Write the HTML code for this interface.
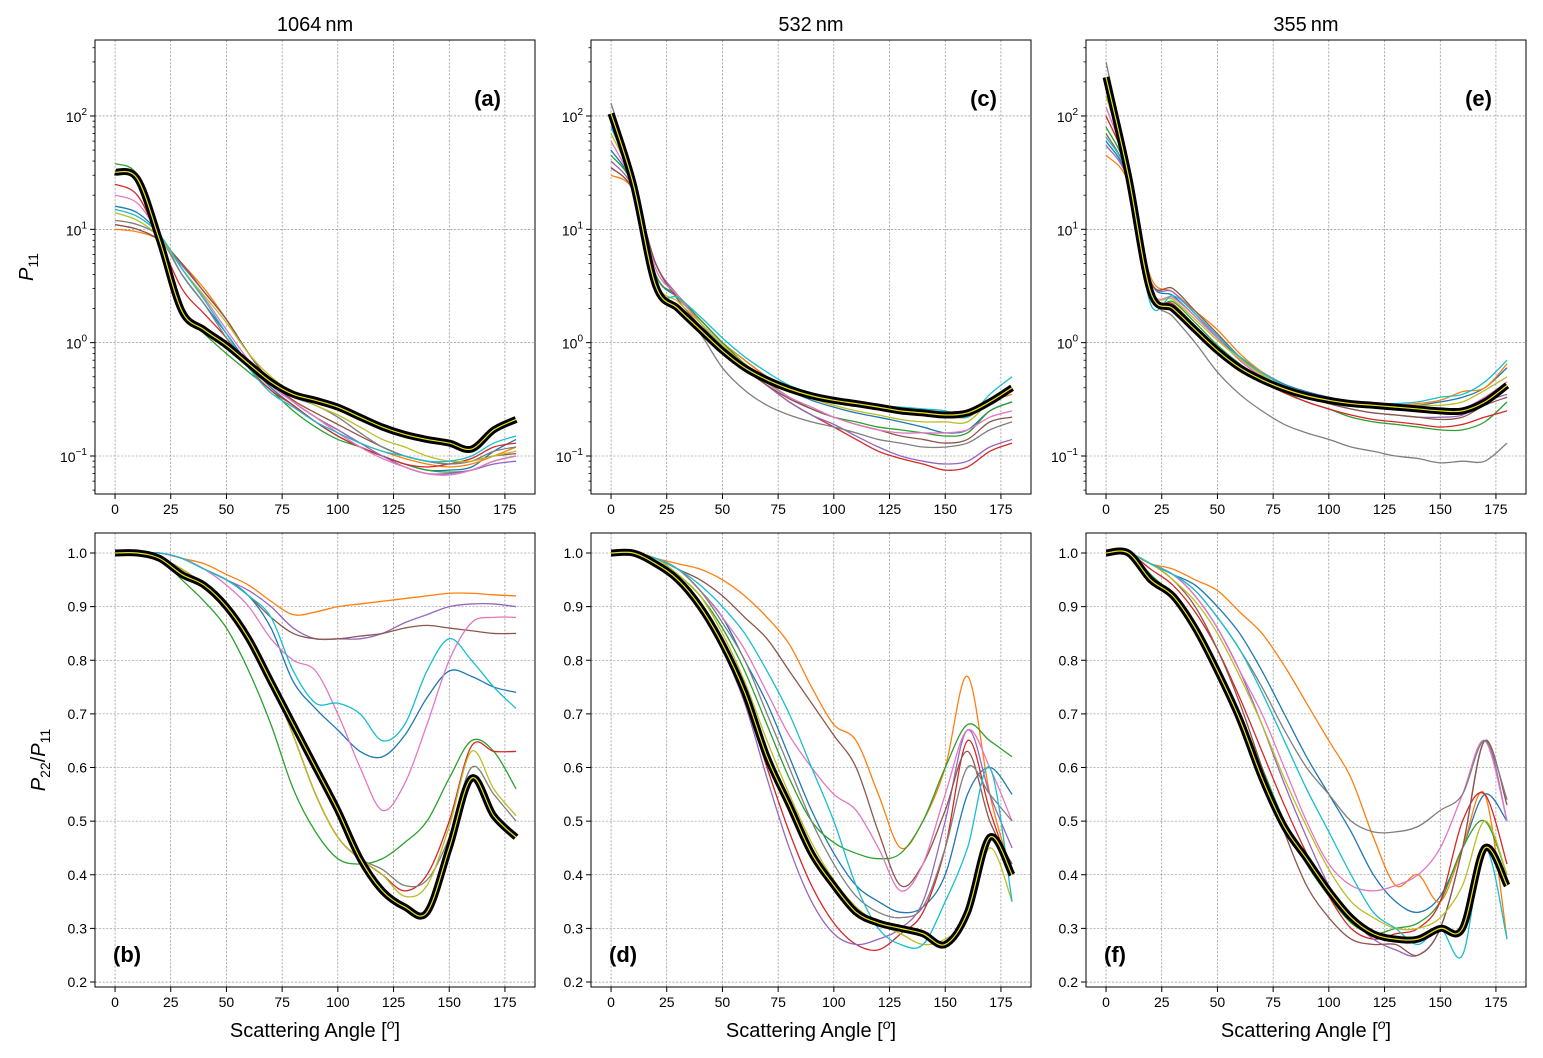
<!DOCTYPE html>
<html><head><meta charset="utf-8">
<style>
html,body{margin:0;padding:0;background:#fff;}
svg{display:block;font-family:"Liberation Sans","DejaVu Sans",sans-serif;}
</style></head>
<body>
<svg id="fig" width="1543" height="1058" viewBox="0 0 1543 1058" xmlns="http://www.w3.org/2000/svg"></svg>
<script>
const angles = [0,10,20,30,40,50,60,70,80,90,100,110,120,130,140,150,160,170,180];
const palette = ["#1f77b4","#ff7f0e","#2ca02c","#d62728","#9467bd","#8c564b","#e377c2","#7f7f7f","#bcbd22","#17becf"];
const wavelengths = ["1064\u2009nm","532\u2009nm","355\u2009nm"];
const topLetters = ["(a)","(c)","(e)"];
const botLetters = ["(b)","(d)","(f)"];
const xTicks = [0,25,50,75,100,125,150,175];
const yTicksLin = [0.2,0.3,0.4,0.5,0.6,0.7,0.8,0.9,1.0];
const yTicksLogExp = [-1,0,1,2];

// P11 1064
const p11a_mean = [32,28,8,1.9,1.3,0.95,0.65,0.45,0.35,0.31,0.27,0.22,0.18,0.155,0.14,0.13,0.115,0.17,0.21];
const p11a_series = [
[16,14,9,4,2.2,1.2,0.65,0.4,0.28,0.2,0.15,0.12,0.1,0.085,0.075,0.075,0.08,0.11,0.14],
[10,9.5,8,5,3,1.6,0.8,0.45,0.3,0.22,0.17,0.13,0.11,0.095,0.085,0.08,0.085,0.1,0.12],
[38,30,8,1.9,1.2,0.8,0.55,0.38,0.25,0.18,0.14,0.12,0.10,0.085,0.075,0.072,0.075,0.09,0.10],
[25,20,8,3,1.8,1.1,0.6,0.38,0.28,0.2,0.15,0.12,0.1,0.085,0.08,0.085,0.095,0.12,0.13],
[11,10,8,4.8,2.8,1.6,0.8,0.45,0.3,0.22,0.17,0.13,0.1,0.08,0.07,0.07,0.075,0.085,0.09],
[11,10,8,5,2.8,1.6,0.8,0.45,0.31,0.24,0.19,0.15,0.12,0.1,0.09,0.085,0.09,0.1,0.105],
[20,17,9,4.5,2.5,1.3,0.7,0.42,0.3,0.22,0.16,0.12,0.095,0.08,0.07,0.068,0.075,0.09,0.1],
[12,11,8.5,4,2.2,1.1,0.6,0.42,0.33,0.28,0.22,0.16,0.12,0.1,0.09,0.085,0.09,0.11,0.12],
[14,12,8.5,4.5,2.6,1.5,0.8,0.5,0.36,0.28,0.23,0.18,0.14,0.12,0.1,0.09,0.09,0.1,0.11],
[15,13,9,4.5,2.4,1.2,0.6,0.36,0.27,0.2,0.16,0.13,0.11,0.1,0.09,0.09,0.1,0.13,0.15]
];
// P11 532
const p11c_mean = [105,25,3.2,2.0,1.3,0.85,0.6,0.47,0.39,0.34,0.31,0.29,0.27,0.25,0.24,0.23,0.24,0.3,0.4];
const p11c_series = [
[50,24,4,2.5,1.6,1.0,0.7,0.5,0.38,0.31,0.27,0.24,0.22,0.2,0.18,0.16,0.17,0.25,0.3],
[30,22,5,2.5,1.6,1.0,0.7,0.5,0.4,0.34,0.3,0.28,0.26,0.25,0.24,0.23,0.22,0.3,0.35],
[45,24,4,2.6,1.6,1.0,0.65,0.45,0.33,0.26,0.22,0.2,0.18,0.17,0.16,0.15,0.16,0.25,0.3],
[35,22,5,2.6,1.5,0.9,0.6,0.42,0.3,0.23,0.18,0.14,0.11,0.095,0.085,0.075,0.08,0.11,0.13],
[40,23,5,2.6,1.5,0.9,0.6,0.42,0.3,0.23,0.19,0.15,0.12,0.1,0.09,0.085,0.09,0.12,0.14],
[35,22,5,2.4,1.4,0.85,0.58,0.42,0.32,0.26,0.22,0.19,0.17,0.15,0.14,0.13,0.14,0.2,0.22],
[60,24,4.5,2.6,1.5,0.95,0.62,0.44,0.33,0.27,0.22,0.19,0.17,0.16,0.16,0.16,0.17,0.22,0.25],
[130,28,3,2.0,1.2,0.6,0.38,0.28,0.23,0.2,0.18,0.16,0.14,0.13,0.12,0.12,0.13,0.17,0.2],
[70,25,3.5,2.3,1.5,0.95,0.65,0.48,0.38,0.32,0.28,0.25,0.23,0.21,0.2,0.2,0.2,0.3,0.38],
[80,25,3,2.5,1.7,1.1,0.75,0.55,0.42,0.36,0.32,0.3,0.28,0.27,0.26,0.25,0.22,0.35,0.5]
];
// P11 355
const p11e_mean = [220,30,2.8,2.0,1.3,0.85,0.6,0.47,0.39,0.34,0.31,0.29,0.28,0.27,0.26,0.25,0.25,0.3,0.42];
const p11e_series = [
[60,28,3.5,2.6,1.7,1.1,0.75,0.55,0.43,0.37,0.33,0.3,0.28,0.27,0.28,0.3,0.33,0.4,0.6],
[45,26,3.8,2.8,1.9,1.3,0.8,0.55,0.42,0.35,0.31,0.29,0.28,0.28,0.29,0.31,0.37,0.4,0.65],
[80,30,2.5,2.3,1.5,0.95,0.65,0.48,0.37,0.3,0.26,0.22,0.2,0.19,0.18,0.17,0.17,0.2,0.3],
[100,32,2.8,2.2,1.4,0.9,0.6,0.45,0.36,0.3,0.26,0.23,0.21,0.2,0.19,0.18,0.19,0.22,0.25],
[55,27,3.5,2.8,1.8,1.1,0.7,0.5,0.39,0.33,0.29,0.26,0.24,0.23,0.22,0.22,0.23,0.3,0.35],
[70,29,3.5,3,1.9,1.2,0.75,0.52,0.4,0.33,0.29,0.26,0.24,0.23,0.22,0.21,0.22,0.28,0.33],
[120,32,3,2.5,1.7,1.1,0.7,0.5,0.39,0.33,0.3,0.28,0.27,0.26,0.25,0.24,0.26,0.33,0.45],
[300,35,2.8,1.7,1.0,0.55,0.35,0.25,0.19,0.16,0.14,0.12,0.11,0.1,0.095,0.087,0.09,0.09,0.13],
[150,33,3,2.4,1.6,1.05,0.72,0.52,0.4,0.34,0.31,0.29,0.28,0.28,0.28,0.28,0.3,0.38,0.5],
[65,28,2.2,2.6,1.8,1.15,0.75,0.54,0.42,0.36,0.32,0.3,0.29,0.29,0.3,0.33,0.35,0.45,0.7]
];
// P22/P11 1064
const p22b_mean = [1,1,0.99,0.96,0.94,0.9,0.84,0.76,0.68,0.6,0.52,0.43,0.37,0.34,0.33,0.45,0.58,0.51,0.47];
const p22b_series = [
[1,1,1,0.99,0.97,0.95,0.92,0.86,0.76,0.71,0.67,0.63,0.62,0.66,0.73,0.78,0.77,0.75,0.74],
[1,1,1,0.99,0.98,0.96,0.94,0.91,0.885,0.89,0.9,0.905,0.91,0.915,0.92,0.925,0.925,0.922,0.92],
[1,1,0.99,0.95,0.91,0.86,0.78,0.68,0.56,0.48,0.43,0.42,0.43,0.46,0.5,0.58,0.65,0.63,0.56],
[1,1,0.99,0.97,0.94,0.9,0.84,0.76,0.66,0.55,0.47,0.43,0.4,0.37,0.4,0.5,0.64,0.63,0.63],
[1,1,1,0.99,0.97,0.95,0.93,0.9,0.86,0.84,0.84,0.84,0.85,0.87,0.885,0.9,0.905,0.905,0.9],
[1,1,1,0.99,0.97,0.95,0.92,0.88,0.85,0.84,0.84,0.845,0.85,0.86,0.865,0.86,0.855,0.85,0.85],
[1,1,1,0.99,0.97,0.94,0.9,0.84,0.8,0.78,0.7,0.6,0.52,0.57,0.68,0.8,0.87,0.88,0.88],
[1,1,0.99,0.97,0.94,0.9,0.84,0.76,0.66,0.55,0.47,0.43,0.41,0.38,0.39,0.47,0.6,0.55,0.5],
[1,1,0.99,0.97,0.94,0.9,0.84,0.76,0.66,0.55,0.47,0.43,0.4,0.36,0.38,0.49,0.63,0.56,0.51],
[1,1,1,0.99,0.97,0.95,0.92,0.88,0.78,0.72,0.72,0.7,0.65,0.68,0.78,0.84,0.8,0.75,0.71]
];
// P22/P11 532
const p22d_mean = [1,1,0.98,0.95,0.9,0.83,0.74,0.62,0.53,0.44,0.38,0.33,0.31,0.3,0.29,0.27,0.33,0.47,0.4];
const p22d_series = [
[1,1,0.99,0.97,0.93,0.88,0.8,0.72,0.62,0.52,0.44,0.38,0.35,0.33,0.34,0.4,0.55,0.6,0.55],
[1,1,0.99,0.98,0.97,0.95,0.92,0.88,0.83,0.75,0.68,0.65,0.55,0.45,0.5,0.6,0.77,0.55,0.4],
[1,1,0.99,0.96,0.92,0.86,0.78,0.68,0.58,0.5,0.46,0.44,0.43,0.44,0.5,0.6,0.68,0.65,0.62],
[1,1,0.98,0.95,0.9,0.83,0.73,0.6,0.48,0.38,0.31,0.27,0.26,0.29,0.33,0.45,0.65,0.52,0.4],
[1,1,0.98,0.95,0.9,0.82,0.72,0.58,0.45,0.35,0.29,0.27,0.28,0.3,0.35,0.5,0.67,0.55,0.45],
[1,1,0.99,0.97,0.95,0.92,0.88,0.84,0.78,0.72,0.66,0.6,0.48,0.38,0.42,0.52,0.63,0.5,0.42],
[1,1,0.99,0.97,0.93,0.88,0.82,0.74,0.66,0.6,0.55,0.52,0.45,0.37,0.42,0.55,0.67,0.6,0.5],
[1,1,0.99,0.97,0.93,0.87,0.8,0.7,0.6,0.5,0.42,0.36,0.33,0.32,0.34,0.45,0.6,0.55,0.5],
[1,1,0.99,0.96,0.92,0.85,0.76,0.65,0.55,0.46,0.39,0.34,0.31,0.29,0.27,0.28,0.32,0.45,0.35],
[1,1,0.99,0.97,0.94,0.9,0.85,0.78,0.7,0.6,0.5,0.38,0.3,0.27,0.27,0.35,0.45,0.6,0.35]
];
// P22/P11 355
const p22f_mean = [1,1,0.95,0.92,0.86,0.78,0.69,0.58,0.49,0.43,0.37,0.32,0.29,0.28,0.28,0.3,0.3,0.45,0.38];
const p22f_series = [
[1,1,0.98,0.96,0.94,0.9,0.85,0.78,0.7,0.62,0.55,0.48,0.4,0.35,0.33,0.36,0.45,0.55,0.5],
[1,1,0.98,0.97,0.95,0.93,0.89,0.85,0.79,0.72,0.65,0.58,0.47,0.38,0.4,0.35,0.45,0.55,0.28],
[1,1,0.96,0.92,0.86,0.78,0.7,0.6,0.5,0.42,0.36,0.31,0.29,0.3,0.31,0.35,0.45,0.5,0.4],
[1,1,0.97,0.94,0.89,0.82,0.73,0.63,0.53,0.44,0.36,0.3,0.28,0.29,0.3,0.35,0.5,0.55,0.42],
[1,1,0.98,0.96,0.92,0.86,0.78,0.68,0.57,0.47,0.38,0.32,0.28,0.26,0.25,0.3,0.45,0.65,0.5],
[1,1,0.98,0.95,0.9,0.82,0.72,0.6,0.48,0.38,0.32,0.28,0.27,0.27,0.25,0.3,0.45,0.65,0.53],
[1,1,0.98,0.96,0.92,0.86,0.78,0.7,0.6,0.5,0.42,0.38,0.37,0.38,0.4,0.45,0.55,0.65,0.5],
[1,1,0.98,0.96,0.93,0.88,0.82,0.75,0.67,0.6,0.55,0.5,0.48,0.48,0.49,0.52,0.55,0.65,0.54],
[1,1,0.98,0.95,0.91,0.85,0.77,0.68,0.58,0.49,0.41,0.35,0.32,0.3,0.3,0.32,0.38,0.5,0.4],
[1,1,0.98,0.96,0.93,0.88,0.82,0.74,0.65,0.56,0.48,0.4,0.33,0.3,0.27,0.3,0.25,0.45,0.28]
];

const NS = "http://www.w3.org/2000/svg";
const svg = document.getElementById("fig");
function mk(tag, attrs, parent){
  const e = document.createElementNS(NS, tag);
  for (const k in attrs) e.setAttribute(k, attrs[k]);
  (parent||svg).appendChild(e);
  return e;
}
const colLeft = [95,591,1086];
const W = 440;
const rows = [{top:40,h:454,log:true,ymin:Math.log10(0.0462),ymax:Math.log10(468)},
              {top:533,h:454,log:false,ymin:0.1907,ymax:1.0373}];
const xmin=-9, xmax=188.5;

function smoothPath(pts){
  let d = "M"+pts[0][0].toFixed(2)+","+pts[0][1].toFixed(2);
  for (let i=0;i<pts.length-1;i++){
    const p0=pts[Math.max(0,i-1)], p1=pts[i], p2=pts[i+1], p3=pts[Math.min(pts.length-1,i+2)];
    const c1x=p1[0]+(p2[0]-p0[0])/6, c1y=p1[1]+(p2[1]-p0[1])/6;
    const c2x=p2[0]-(p3[0]-p1[0])/6, c2y=p2[1]-(p3[1]-p1[1])/6;
    d+=" C"+c1x.toFixed(2)+","+c1y.toFixed(2)+" "+c2x.toFixed(2)+","+c2y.toFixed(2)+" "+p2[0].toFixed(2)+","+p2[1].toFixed(2);
  }
  return d;
}

const topData = [[p11a_mean,p11a_series],[p11c_mean,p11c_series],[p11e_mean,p11e_series]];
const botData = [[p22b_mean,p22b_series],[p22d_mean,p22d_series],[p22f_mean,p22f_series]];

for (let r=0;r<2;r++){
  const R = rows[r];
  for (let c=0;c<3;c++){
    const L = colLeft[c];
    const xs = v => L + (v - xmin)/(xmax - xmin)*W;
    const ys = v => { const t = R.log ? Math.log10(v) : v; return R.top + R.h - (t - R.ymin)/(R.ymax - R.ymin)*R.h; };
    const g = mk("g",{});
    
    
    const clipId = "clip"+r+c;
    const cp = mk("clipPath",{id:clipId},g);
    mk("rect",{x:L,y:R.top,width:W,height:R.h},cp);
    for (const t of xTicks){
      const x=xs(t);
      mk("line",{x1:x,x2:x,y1:R.top,y2:R.top+R.h,stroke:"#808080","stroke-width":0.6,"stroke-dasharray":"2.2,1.5"},g);
      mk("line",{x1:x,x2:x,y1:R.top+R.h,y2:R.top+R.h+5,stroke:"#000","stroke-width":1},g);
      const tx = mk("text",{x:x,y:R.top+R.h+20,"text-anchor":"middle","font-size":14,fill:"#000"},g);
      tx.textContent = t;
      
      
    }
    if (R.log){
      for (const e of yTicksLogExp){
        const y=ys(Math.pow(10,e));
        mk("line",{x1:L,x2:L+W,y1:y,y2:y,stroke:"#808080","stroke-width":0.6,"stroke-dasharray":"2.2,1.5"},g);
        mk("line",{x1:L-5,x2:L,y1:y,y2:y,stroke:"#000","stroke-width":1},g);
        const tx = mk("text",{x:L-8,y:y+6,"text-anchor":"end","font-size":14,fill:"#000"},g);
        
        
        tx.appendChild(document.createTextNode("10"));
        const sp = mk("tspan",{dy:-7,"font-size":10},tx);
        sp.textContent = String(e).replace("-","\u2212");
      }
      for (let e=-2;e<3;e++){
        for (let m=2;m<10;m++){
          const v=m*Math.pow(10,e);
          const lv=Math.log10(v);
          if (lv<R.ymin||lv>R.ymax) continue;
          const y=ys(v);
          mk("line",{x1:L-2.5,x2:L,y1:y,y2:y,stroke:"#000","stroke-width":0.8},g);
        }
      }
    } else {
      for (const t of yTicksLin){
        const y=ys(t);
        mk("line",{x1:L,x2:L+W,y1:y,y2:y,stroke:"#808080","stroke-width":0.6,"stroke-dasharray":"2.2,1.5"},g);
        mk("line",{x1:L-5,x2:L,y1:y,y2:y,stroke:"#000","stroke-width":1},g);
        const tx = mk("text",{x:L-8,y:y+5,"text-anchor":"end","font-size":14,fill:"#000"},g);
        tx.textContent = t.toFixed(1);
        
        
      }
    }
    const data = r===0 ? topData[c] : botData[c];
    const lg = mk("g",{"clip-path":"url(#"+clipId+")"},g);
    data[1].forEach((s,i)=>{
      const pts = angles.map((a,k)=>[xs(a),ys(s[k])]);
      const p = mk("path",{d:smoothPath(pts),fill:"none",stroke:palette[i%10],"stroke-width":1.3},lg);
      
      
    });
    const mpts = angles.map((a,k)=>[xs(a),ys(data[0][k])]);
    const mp = mk("path",{d:smoothPath(mpts),fill:"none",stroke:"#000","stroke-width":7,"stroke-linejoin":"round"},lg);
    
    
    const yp = mk("path",{d:smoothPath(mpts),fill:"none",stroke:"#e8e020","stroke-width":1.2},lg);
    
    
    mk("rect",{x:L,y:R.top,width:W,height:R.h,fill:"none",stroke:"#000","stroke-width":1},g);
    const lt = r===0
      ? mk("text",{x:L+W-34,y:R.top+66,"text-anchor":"end","font-size":22,"font-weight":"bold",fill:"#000"},g)
      : mk("text",{x:L+18,y:R.top+429,"text-anchor":"start","font-size":22,"font-weight":"bold",fill:"#000"},g);
    lt.textContent = r===0 ? topLetters[c] : botLetters[c];
    
    
    if (r===0){
      const tt = mk("text",{x:L+W/2,y:31,"text-anchor":"middle","font-size":20,fill:"#000"},g);
      tt.textContent = wavelengths[c];
      
      
    } else {
      const xl = mk("text",{x:L+W/2,y:1037,"text-anchor":"middle","font-size":20,fill:"#000"},g);
      
      
      xl.appendChild(document.createTextNode("Scattering Angle ["));
      const it = mk("tspan",{"font-style":"italic","font-size":14,dy:-8},xl);
      it.textContent="o";
      const cl = mk("tspan",{dy:8},xl);
      cl.textContent="]";
    }
  }
}
const y1 = mk("text",{transform:"translate(33,267) rotate(-90)","text-anchor":"middle","font-size":20,"font-style":"italic",fill:"#000"});


y1.appendChild(document.createTextNode("P"));
const s1 = mk("tspan",{dy:5,"font-size":14,"font-style":"normal"},y1); s1.textContent="11";
const y2 = mk("text",{transform:"translate(45,760) rotate(-90)","text-anchor":"middle","font-size":20,fill:"#000"});


const a1 = mk("tspan",{"font-style":"italic"},y2); a1.textContent="P";
const a2 = mk("tspan",{dy:5,"font-size":14},y2); a2.textContent="22";
const a3 = mk("tspan",{dy:-5},y2); a3.textContent="/";
const a4 = mk("tspan",{"font-style":"italic"},y2); a4.textContent="P";
const a5 = mk("tspan",{dy:5,"font-size":14},y2); a5.textContent="11";
</script>
</body></html>
